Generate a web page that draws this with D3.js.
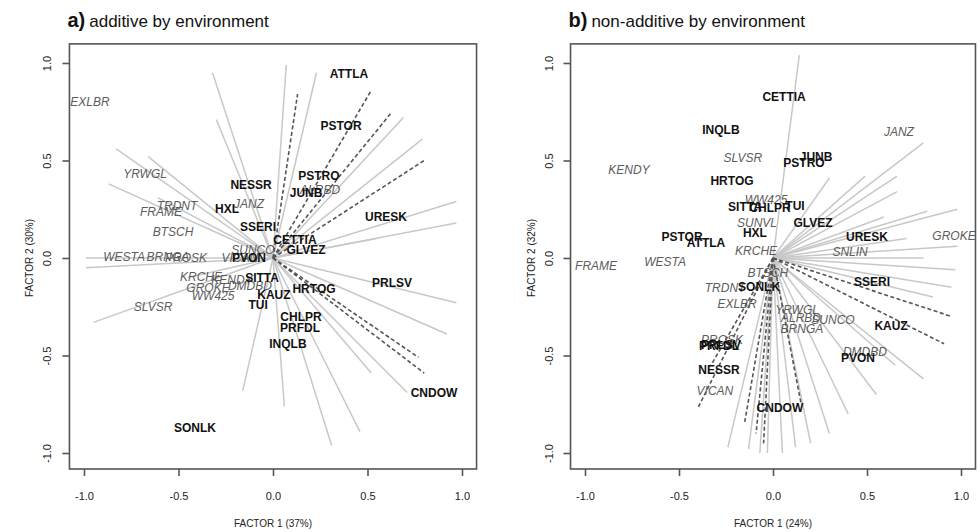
<!DOCTYPE html>
<html><head><meta charset="utf-8">
<script src="https://cdn.jsdelivr.net/npm/d3@7"></script>
<style>body{margin:0;background:#fff}</style>
</head><body><svg id="c" width="980" height="532"></svg>
<script>
// ---- data ----
const tickValues = [-1.0, -0.5, 0.0, 0.5, 1.0];
const tickLabels = ["-1.0", "-0.5", "0.0", "0.5", "1.0"];

const titleA = ["a)", "additive by environment"];
const titleB = ["b)", "non-additive by environment"];
const xTitleA = "FACTOR 1 (37%)", yTitleA = "FACTOR 2 (30%)";
const xTitleB = "FACTOR 1 (24%)", yTitleB = "FACTOR 2 (32%)";

// environment vectors, panel a
const vecSolidA = [[-0.32,0.95],[-0.30,0.71],[-0.83,0.56],[-0.66,0.52],[-0.87,0.38],[-0.61,0.31],
  [0.07,0.99],[0.23,0.95],[0.69,0.72],[0.79,0.61],[0.97,0.29],[0.97,0.18],[-0.99,0.0],[-0.99,-0.05],
  [-0.95,-0.33],[0.97,-0.23],[0.92,-0.39],[0.52,-0.59],[0.46,-0.89],[0.31,-0.96],[0.06,-0.76],
  [-0.16,-0.68],[0.71,-0.69],[0.55,0.10],[-0.45,-0.10]];
const vecDashA = [[0.13,0.84],[0.52,0.86],[0.63,0.75],[0.80,0.50],[0.77,-0.51],[0.80,-0.59]];
// environment vectors, panel b
const vecSolidB = [[0.14,1.04],[0.80,0.59],[0.66,0.42],[0.49,0.42],[0.66,0.34],[0.30,0.41],
  [0.98,0.25],[0.82,0.24],[0.59,0.21],[0.98,0.06],[0.80,0.0],[0.71,0.10],[0.97,-0.06],[0.95,-0.15],
  [0.85,-0.20],[0.80,-0.62],[0.65,-0.55],[0.55,-0.70],[0.40,-0.80],[0.30,-0.90],[0.20,-0.95],
  [0.12,-0.97],[0.05,-1.0],[-0.03,-1.0],[-0.07,-1.0],[-0.13,-0.98],[-0.24,-0.97]];
const vecDashB = [[0.95,-0.30],[0.91,-0.44],[-0.40,-0.77],[-0.33,-0.55],[-0.15,-0.84],[-0.05,-0.95],
  [-0.09,-0.90],[0.15,-0.75]];

// genotype labels (bold) and environment labels (italic)
const genoA = [["ATTLA",0.402,0.944],["PSTOR",0.360,0.677],["PSTRO",0.243,0.421],["JUNB",0.175,0.333],
  ["NESSR",-0.116,0.374],["HXL",-0.243,0.251],["SSERI",-0.079,0.159],["CETTIA",0.116,0.092],
  ["GLVEZ",0.175,0.041],["URESK",0.598,0.210],["PVON",-0.127,0.0],["SITTA",-0.058,-0.103],
  ["KAUZ",0.005,-0.190],["TUI",-0.079,-0.241],["HRTOG",0.217,-0.159],["PRLSV",0.630,-0.128],
  ["CHLPR",0.148,-0.303],["PRFDL",0.143,-0.359],["INQLB",0.079,-0.441],["CNDOW",0.852,-0.692],
  ["SONLK",-0.413,-0.872]];
const envA = [["EXLBR",-0.968,0.800],["YRWGL",-0.677,0.431],["TRDNT",-0.508,0.267],["FRAME",-0.593,0.236],
  ["JANZ",-0.127,0.277],["BTSCH",-0.529,0.133],["WESTA",-0.788,0.005],["BRNGA",-0.556,0.005],
  ["PROSK",-0.460,0.0],["VICAN",-0.175,0.0],["SUNCO",-0.106,0.041],["KRCHE",-0.381,-0.097],
  ["KENDY",-0.217,-0.113],["DMDBD",-0.122,-0.144],["GROKE",-0.344,-0.154],["WW425",-0.317,-0.195],
  ["SLVSR",-0.635,-0.251],["ALRBD",0.249,0.349]];
const genoB = [["CETTIA",0.059,0.826],["INQLB",-0.277,0.656],["JUNB",0.229,0.518],["PSTRO",0.165,0.487],
  ["HRTOG",-0.218,0.395],["SITTA",-0.149,0.262],["CHLPR",-0.016,0.256],["TUI",0.117,0.267],
  ["GLVEZ",0.213,0.179],["HXL",-0.096,0.128],["PSTOR",-0.484,0.108],["ATTLA",-0.356,0.077],
  ["URESK",0.500,0.108],["SONLK",-0.074,-0.149],["SSERI",0.527,-0.123],["KAUZ",0.628,-0.349],
  ["PVON",0.452,-0.513],["PRLSV",-0.277,-0.446],["PRFDL",-0.287,-0.451],["NESSR",-0.287,-0.574],
  ["CNDOW",0.037,-0.769]];
const envB = [["KENDY",-0.766,0.451],["SLVSR",-0.160,0.513],["JANZ",0.670,0.646],["GROKE",0.963,0.113],
  ["FRAME",-0.941,-0.041],["WESTA",-0.574,-0.021],["KRCHE",-0.090,0.036],["SUNVL",-0.085,0.179],
  ["WW425",-0.037,0.297],["SNLIN",0.410,0.031],["BTSCH",-0.027,-0.077],["TRDNT",-0.255,-0.154],
  ["EXLBR",-0.191,-0.236],["YRWGL",0.128,-0.267],["ALRBD",0.149,-0.308],["SUNCO",0.319,-0.318],
  ["BRNGA",0.154,-0.364],["DMDBD",0.489,-0.482],["PROSK",-0.271,-0.421],["VICAN",-0.309,-0.682]];

// ---- drawing ----
const svg = d3.select("#c");
const FONT = "'Liberation Sans', Arial, sans-serif";

function panel(opt) {
  const x = d3.scaleLinear().domain([-1, 1]).range([opt.x0, opt.x1]);
  const y = d3.scaleLinear().domain([-1, 1]).range([453, 63]);
  const ext = 1.077;
  const bx0 = x(-ext), bx1 = x(ext), by0 = y(1.098), by1 = y(-1.082);
  const g = svg.append("g");

  // vectors
  g.selectAll("line.s").data(opt.solid).join("line")
    .attr("x1", x(0)).attr("y1", y(0)).attr("x2", d => x(d[0])).attr("y2", d => y(d[1]))
    .attr("stroke", "#c8c8c8").attr("stroke-width", 1.5);
  g.selectAll("line.d").data(opt.dash).join("line")
    .attr("x1", x(0)).attr("y1", y(0)).attr("x2", d => x(d[0])).attr("y2", d => y(d[1]))
    .attr("stroke", "#555").attr("stroke-width", 1.6).attr("stroke-dasharray", "4,2.5");

  // env labels
  g.selectAll("text.e").data(opt.env).join("text")
    .attr("x", d => x(d[1])).attr("y", d => y(d[2])).attr("dy", "0.36em")
    .attr("text-anchor", "middle").attr("font-family", FONT).attr("font-style", "italic")
    .attr("font-size", 12).attr("fill", "#5c5c5c").text(d => d[0]);
  // genotype labels
  g.selectAll("text.g").data(opt.geno).join("text")
    .attr("x", d => x(d[1])).attr("y", d => y(d[2])).attr("dy", "0.36em")
    .attr("text-anchor", "middle").attr("font-family", FONT).attr("font-weight", "bold")
    .attr("font-size", 12).attr("fill", "#111").text(d => d[0]);

  // frame
  g.append("rect").attr("x", bx0).attr("y", by0).attr("width", bx1 - bx0).attr("height", by1 - by0)
    .attr("fill", "none").attr("stroke", "#555").attr("stroke-width", 1.6);

  // x axis
  const xa = g.append("g").attr("transform", `translate(0,${by1})`)
    .call(d3.axisBottom(x).tickValues(tickValues).tickSize(7).tickSizeOuter(0)
      .tickFormat((d, i) => tickLabels[i]));
  xa.select(".domain").remove();
  xa.selectAll("line").attr("stroke", "#555").attr("stroke-width", 1.6);
  xa.selectAll("text").attr("font-family", FONT).attr("font-size", 11).attr("fill", "#222").attr("dy", "1.9em");
  // y axis
  const ya = g.append("g").attr("transform", `translate(${bx0},0)`)
    .call(d3.axisLeft(y).tickValues(tickValues).tickSize(7).tickSizeOuter(0)
      .tickFormat((d, i) => tickLabels[i]));
  ya.select(".domain").remove();
  ya.selectAll("line").attr("stroke", "#555").attr("stroke-width", 1.6);
  ya.selectAll("text").attr("font-family", FONT).attr("font-size", 11).attr("fill", "#222")
    .attr("text-anchor", "middle").attr("x", 0).attr("dy", 0)
    .attr("transform", "translate(-18,0) rotate(-90)");

  // axis titles
  g.append("text").attr("x", x(0)).attr("y", 527).attr("text-anchor", "middle")
    .attr("font-family", FONT).attr("font-size", 10).attr("fill", "#222").text(opt.xTitle);
  g.append("text").attr("transform", `translate(${bx0 - 36},${y(0)}) rotate(-90)`).attr("text-anchor", "middle")
    .attr("font-family", FONT).attr("font-size", 10).attr("fill", "#222").text(opt.yTitle);

  // title
  const t = g.append("text").attr("x", bx0 - 2).attr("y", 27).attr("font-family", "'Liberation Sans Narrow', 'Liberation Sans', Arial, sans-serif").attr("fill", "#111");
  t.append("tspan").attr("font-weight", "bold").attr("font-size", 20).text(opt.title[0]);
  t.append("tspan").attr("font-size", 17).attr("dx", 4).text(opt.title[1]);
}

panel({x0: 84, x1: 462, solid: vecSolidA, dash: vecDashA, geno: genoA, env: envA,
  xTitle: xTitleA, yTitle: yTitleA, title: titleA});
panel({x0: 585, x1: 961, solid: vecSolidB, dash: vecDashB, geno: genoB, env: envB,
  xTitle: xTitleB, yTitle: yTitleB, title: titleB});
</script></body></html>
